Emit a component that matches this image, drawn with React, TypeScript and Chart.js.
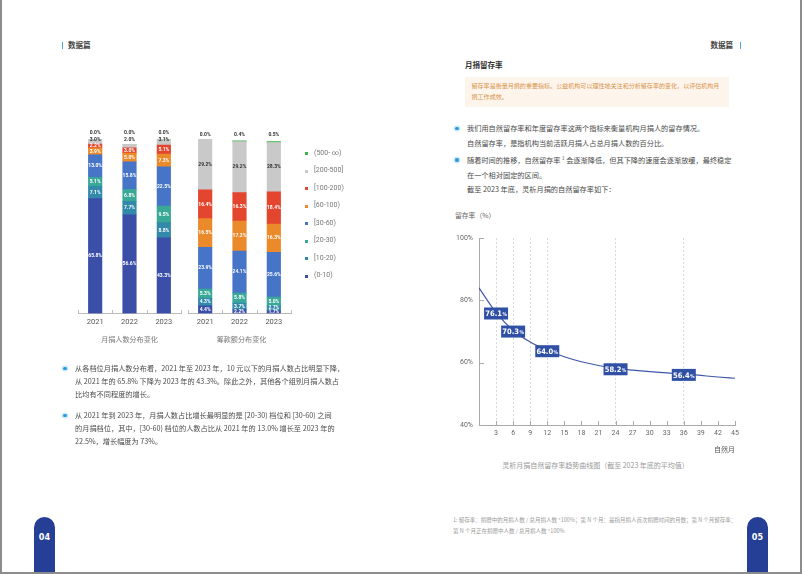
import React, { useEffect, useRef } from 'react';
import { Chart, registerables } from 'chart.js';

Chart.register(...registerables);

const FONT = '"Noto Sans CJK SC", "Noto Sans", sans-serif';
const NUM_FONT = 'Roboto, "Noto Sans", sans-serif';
const COND_FONT = '"DejaVu Sans Condensed", Roboto, sans-serif';

// ---------- stacked bar data ----------
const years = ['2021', '2022', '2023'];
const bandLabels = ['(0-10)', '[10-20)', '[20-30)', '[30-60)', '[60-100)', '[100-200)', '[200-500]', '(500- ∞)'];
const bandColors = ['#3b4fa8', '#3389aa', '#3aa896', '#4674c6', '#ea8a2a', '#e4452e', '#c9c9c9', '#3cb44a'];

const donors0to10 = [65.8, 56.6, 43.3];
const donors10to20 = [7.1, 7.7, 8.8];
const donors20to30 = [5.1, 6.8, 9.5];
const donors30to60 = [13.0, 15.8, 22.5];
const donors60to100 = [3.9, 5.0, 7.3];
const donors100to200 = [2.2, 3.0, 5.1];
const donors200to500 = [3.0, 2.0, 3.1];
const donors500plus = [0.0, 0.0, 0.0];

const amount0to10 = [4.4, 2.2, 1.7];
const amount10to20 = [4.3, 3.7, 2.7];
const amount20to30 = [5.3, 5.8, 5.0];
const amount30to60 = [23.9, 24.1, 25.6];
const amount60to100 = [16.5, 17.2, 16.3];
const amount100to200 = [16.4, 16.3, 18.4];
const amount200to500 = [29.2, 29.2, 28.3];
const amount500plus = [0.0, 0.4, 0.5];

const donorSeries = [donors0to10, donors10to20, donors20to30, donors30to60, donors60to100, donors100to200, donors200to500, donors500plus];
const amountSeries = [amount0to10, amount10to20, amount20to30, amount30to60, amount60to100, amount100to200, amount200to500, amount500plus];

// ---------- retention line data ----------
const retentionMonths = [0, 3, 6, 9, 12, 15, 18, 21, 24, 27, 30, 33, 36, 39, 42, 45];
const retentionRates = [84.0, 76.1, 70.3, 66.6, 64.0, 61.9, 60.3, 59.1, 58.2, 57.6, 57.1, 56.7, 56.4, 55.9, 55.4, 55.0];
const labeledMonths = [3, 6, 12, 24, 36];
const dashedMonths = [3, 6, 9, 12, 24, 36];

const segLabelPlugin: any = {
  id: 'segLabels',
  afterDatasetsDraw(chart: any, _a: any, opts: any) {
    const ctx = chart.ctx;
    const ys = chart.scales.y;
    ctx.save();
    ctx.font = 'bold 5px ' + NUM_FONT;
    ctx.textAlign = 'center';
    ctx.textBaseline = 'middle';
    chart.data.datasets.forEach((ds: any, di: number) => {
      const meta = chart.getDatasetMeta(di);
      meta.data.forEach((bar: any, i: number) => {
        const v = ds.data[i];
        const p = bar.getProps(['x', 'y', 'base'], true);
        let cy = (p.y + p.base) / 2;
        let color = di === 6 ? '#333' : '#fff';
        const out = opts.outside ? opts.outside[di] : undefined;
        if (out !== undefined) {
          cy = ys.getPixelForValue(100) + out;
          color = '#333';
        }
        ctx.fillStyle = color;
        ctx.fillText(v.toFixed(1) + '%', p.x, cy);
      });
    });
    ctx.restore();
  },
};

const axisTickPlugin: any = {
  id: 'axisTicks',
  afterDraw(chart: any, _a: any, opts: any) {
    const ctx = chart.ctx;
    const xs = chart.scales.x;
    ctx.save();
    ctx.strokeStyle = opts.color || '#aaa';
    ctx.lineWidth = 1;
    ctx.beginPath();
    if (opts.mode === 'category') {
      const n = chart.data.labels.length;
      for (let i = 0; i <= n; i++) {
        const px = Math.round(xs.left + (i * xs.width) / n) + 0.5;
        ctx.moveTo(px, xs.top);
        ctx.lineTo(px, xs.top - opts.len);
      }
    } else {
      xs.ticks.forEach((t: any) => {
        if (t.value === 0) return;
        const px = Math.round(xs.getPixelForValue(t.value)) + 0.5;
        ctx.moveTo(px, xs.top);
        ctx.lineTo(px, xs.top - opts.len);
      });
      const ysc = chart.scales.y;
      ysc.ticks.forEach((t: any) => {
        if (t.value === ysc.min) return;
        const py = Math.round(ysc.getPixelForValue(t.value)) + 0.5;
        ctx.moveTo(ysc.right, py);
        ctx.lineTo(ysc.right + opts.len + 1, py);
      });
    }
    ctx.stroke();
    ctx.restore();
  },
};

const valueBoxPlugin: any = {
  id: 'valueBoxes',
  afterDatasetsDraw(chart: any) {
    const ctx = chart.ctx;
    const meta = chart.getDatasetMeta(0);
    ctx.save();
    retentionMonths.forEach((m, i) => {
      if (!labeledMonths.includes(m)) return;
      const p = meta.data[i];
      const main = retentionRates[i].toFixed(1);
      ctx.font = 'bold 7.5px ' + COND_FONT;
      const w1 = ctx.measureText(main).width;
      ctx.font = 'bold 5px ' + COND_FONT;
      const w2 = ctx.measureText('%').width;
      const bw = 24;
      const bh = 12;
      const cx = p.x;
      const cy = p.y + 1;
      ctx.fillStyle = '#3050a6';
      ctx.fillRect(cx - bw / 2, cy - bh / 2, bw, bh);
      const tx = cx - (w1 + w2 + 0.5) / 2;
      ctx.fillStyle = '#fff';
      ctx.textBaseline = 'alphabetic';
      ctx.textAlign = 'left';
      ctx.font = 'bold 7.5px ' + COND_FONT;
      ctx.fillText(main, tx, cy + 2.8);
      ctx.font = 'bold 5px ' + COND_FONT;
      ctx.fillText('%', tx + w1 + 0.5, cy + 2.8);
    });
    ctx.restore();
  },
};

function StackedBars({ series, outside, left, top }: any) {
  const ref = useRef<HTMLCanvasElement>(null);
  useEffect(() => {
    const chart = new Chart(ref.current as HTMLCanvasElement, {
      type: 'bar',
      data: {
        labels: years,
        datasets: series.map((d: number[], i: number) => ({
          label: bandLabels[i],
          data: d,
          backgroundColor: bandColors[i],
          borderWidth: 0,
          barThickness: 13.5,
        })),
      },
      options: {
        animation: false,
        responsive: true,
        maintainAspectRatio: false,
        layout: { padding: { left: 8, right: 9, top: 14, bottom: 0 } },
        plugins: {
          legend: { display: false },
          tooltip: { enabled: false },
          segLabels: { outside },
          axisTicks: { mode: 'category', len: 3.5, color: '#bbb' },
        } as any,
        scales: {
          x: {
            stacked: true,
            grid: { display: false, drawTicks: false },
            border: { display: true, color: '#bbb' },
            ticks: { color: '#555', font: { size: 7.5, family: NUM_FONT }, padding: 4 },
            afterFit: (s: any) => { s.height = 21.5; },
          },
          y: { stacked: true, display: false, min: 0, max: 100 },
        },
      },
      plugins: [segLabelPlugin, axisTickPlugin],
    });
    return () => chart.destroy();
  }, []);
  return (
    <div style={{ position: 'absolute', left, top, width: 120, height: 210 }}>
      <canvas ref={ref} />
    </div>
  );
}

function RetentionLine() {
  const ref = useRef<HTMLCanvasElement>(null);
  useEffect(() => {
    const chart = new Chart(ref.current as HTMLCanvasElement, {
      type: 'line',
      data: {
        datasets: [
          {
            label: '自然留存率',
            data: retentionMonths.map((m, i) => ({ x: m, y: retentionRates[i] })),
            borderColor: '#3f57a8',
            borderWidth: 1.2,
            pointRadius: 0,
            cubicInterpolationMode: 'monotone',
            fill: false,
          },
        ],
      },
      options: {
        animation: false,
        responsive: true,
        maintainAspectRatio: false,
        layout: { padding: { left: 0, right: 15, top: 13, bottom: 0 } },
        plugins: {
          legend: { display: false },
          tooltip: { enabled: false },
          axisTicks: { mode: 'linear', len: 4, color: '#aaa' },
        } as any,
        scales: {
          x: {
            type: 'linear',
            min: 0,
            max: 45,
            grid: {
              color: (c: any) => (c.tick && dashedMonths.includes(c.tick.value) ? '#d9d9d9' : 'rgba(0,0,0,0)'),
              drawTicks: false,
              lineWidth: 1,
            },
            border: { display: true, color: '#aaa', dash: [2, 2] },
            ticks: {
              stepSize: 3,
              color: '#666',
              padding: 4,
              font: { size: 7, family: NUM_FONT },
              callback: (v: any) => (v === 0 ? '' : String(v)),
            },
            title: {
              display: true,
              text: '自然月',
              align: 'end',
              color: '#555',
              font: { size: 7, family: FONT },
              padding: { top: 3, bottom: 0 },
            },
            afterFit: (s: any) => { s.height = 29; },
          },
          y: {
            min: 40,
            max: 100,
            grid: { display: false, drawTicks: false },
            border: { display: true, color: '#aaa' },
            ticks: {
              stepSize: 20,
              color: '#666',
              padding: 6,
              font: { size: 7, family: NUM_FONT },
              callback: (v: any) => v + '%',
            },
            afterFit: (s: any) => { s.width = 39; },
          },
        },
      },
      plugins: [axisTickPlugin, valueBoxPlugin],
    });
    return () => chart.destroy();
  }, []);
  return (
    <div style={{ position: 'absolute', left: 440, top: 225, width: 310, height: 229 }}>
      <canvas ref={ref} />
    </div>
  );
}

function T({ x, y, size = 7.2, color = '#4a4a4a', bold = false, align = 'left', font = FONT, children }: any) {
  const tr = align === 'center' ? 'translateX(-50%)' : align === 'right' ? 'translateX(-100%)' : 'none';
  return (
    <div
      style={{
        position: 'absolute',
        left: x,
        top: y - size * 0.7,
        fontSize: size,
        lineHeight: size * 1.4 + 'px',
        color,
        fontWeight: bold ? 700 : 400,
        fontFamily: font,
        whiteSpace: 'nowrap',
        transform: tr,
      }}
    >
      {children}
    </div>
  );
}

function Dot({ x, y }: any) {
  return (
    <div
      style={{
        position: 'absolute',
        left: x - 1.75,
        top: y - 1.75,
        width: 3.5,
        height: 3.5,
        borderRadius: '50%',
        background: '#2b9be0',
        boxShadow: '0 0 0 1.5px rgba(43,155,224,0.22)',
      }}
    />
  );
}

function Tab({ x, label }: any) {
  return (
    <div
      style={{
        position: 'absolute',
        left: x,
        top: 517,
        width: 21,
        height: 60,
        background: '#263f96',
        borderRadius: '10.5px 10.5px 0 0',
        color: '#fff',
        fontFamily: COND_FONT,
        fontWeight: 700,
        fontSize: 9,
        textAlign: 'center',
        lineHeight: '40px',
      }}
    >
      {label}
    </div>
  );
}

export default function App() {
  const legendOrder = bandLabels.map((l, i) => ({ l, c: bandColors[i] })).reverse();
  return (
    <div
      style={{
        position: 'fixed',
        left: 0,
        top: 0,
        width: 802,
        height: 574,
        background: '#fff',
        overflow: 'hidden',
        fontFamily: FONT,
      }}
    >
      {/* headers */}
      <div style={{ position: 'absolute', left: 61.5, top: 41.5, width: 1.5, height: 7, background: '#4aa8e0' }} />
      <T x={68} y={45} size={7.5} bold color="#444">数据篇</T>
      <T x={733} y={45} size={7.5} bold color="#444" align="right">数据篇</T>
      <div style={{ position: 'absolute', left: 739.5, top: 41.5, width: 1.5, height: 7, background: '#4aa8e0' }} />

      {/* left page charts */}
      <StackedBars series={donorSeries} outside={{ 6: 0.5, 7: -6 }} left={70} top={125} />
      <StackedBars series={amountSeries} outside={{ 7: -4 }} left={180} top={125} />
      {legendOrder.map((it, i) => (
        <React.Fragment key={it.l}>
          <div style={{ position: 'absolute', left: 305, top: 153.5 + i * 17.5 - 1.5, width: 3, height: 3, background: it.c }} />
          <T x={314} y={153.5 + i * 17.5} size={7} color="#777" font={NUM_FONT}>{it.l}</T>
        </React.Fragment>
      ))}
      <T x={129.5} y={340} size={7.1} color="#777" align="center">月捐人数分布变化</T>
      <T x={241.5} y={340} size={7.1} color="#777" align="center">筹款额分布变化</T>

      {/* left page text */}
      <Dot x={65} y={368.5} />
      <T x={75} y={368.5}>从各档位月捐人数分布看，2021 年至 2023 年，10 元以下的月捐人数占比明显下降，</T>
      <T x={75} y={381.5}>从 2021 年的 65.8% 下降为 2023 年的 43.3%。除此之外，其他各个组别月捐人数占</T>
      <T x={75} y={394.5}>比均有不同程度的增长。</T>
      <Dot x={65} y={415.5} />
      <T x={75} y={415.5}>从 2021 年到 2023 年，月捐人数占比增长最明显的是 [20-30) 档位和 [30-60) 之间</T>
      <T x={75} y={428.5}>的月捐档位，其中，[30-60) 档位的人数占比从 2021 年的 13.0% 增长至 2023 年的</T>
      <T x={75} y={441.5}>22.5%，增长幅度为 73%。</T>

      {/* right page */}
      <T x={465} y={65.5} size={7.5} bold color="#333">月捐留存率</T>
      <div style={{ position: 'absolute', left: 464.5, top: 76.5, width: 264, height: 30, background: '#fdf5ec' }} />
      <T x={471.5} y={86.7} size={6.05} color="#d8944a">留存率是衡量月捐的重要指标。公益机构可以理性地关注和分析留存率的变化，以评估机构月</T>
      <T x={471.5} y={96.9} size={6.05} color="#d8944a">捐工作成效。</T>

      <Dot x={457} y={128.5} />
      <T x={467} y={128.5}>我们用自然留存率和年度留存率这两个指标来衡量机构月捐人的留存情况。</T>
      <T x={467} y={143.5}>自然留存率，是指机构当前活跃月捐人占总月捐人数的百分比。</T>
      <Dot x={457} y={160} />
      <T x={467} y={160}>
        随着时间的推移，自然留存率 <span style={{ fontSize: 4.5, position: 'relative', top: -2.5 }}>1</span> 会逐渐降低，但其下降的速度会逐渐放缓，最终稳定
      </T>
      <T x={467} y={175}>在一个相对固定的区间。</T>
      <T x={467} y={189.5}>截至 2023 年底，灵析月捐的自然留存率如下：</T>

      <T x={455} y={215.5} size={6.8} color="#666">留存率（%）</T>
      <RetentionLine />
      <T x={595.5} y={466} size={7} color="#999" align="center">灵析月捐自然留存率趋势曲线图（截至 2023 年底的平均值）</T>

      <T x={453} y={520.7} size={5.5} color="#9a9a9a">1: 留存率：捐赠中的月捐人数 / 总月捐人数 *100%；第 N 个月：是指月捐人首次捐赠时间的月数；第 N 个月留存率：</T>
      <T x={453} y={532} size={5.5} color="#9a9a9a">第 N 个月正在捐赠中人数 / 总月捐人数 *100%</T>

      <Tab x={34} label="04" />
      <Tab x={747} label="05" />

      <div
        style={{
          position: 'absolute',
          left: 0,
          top: 0,
          width: 802,
          height: 574,
          boxSizing: 'border-box',
          borderLeft: '2px solid #8c8c8c',
          borderRight: '2px solid #8c8c8c',
          borderBottom: '2px solid #8c8c8c',
          pointerEvents: 'none',
        }}
      />
    </div>
  );
}
